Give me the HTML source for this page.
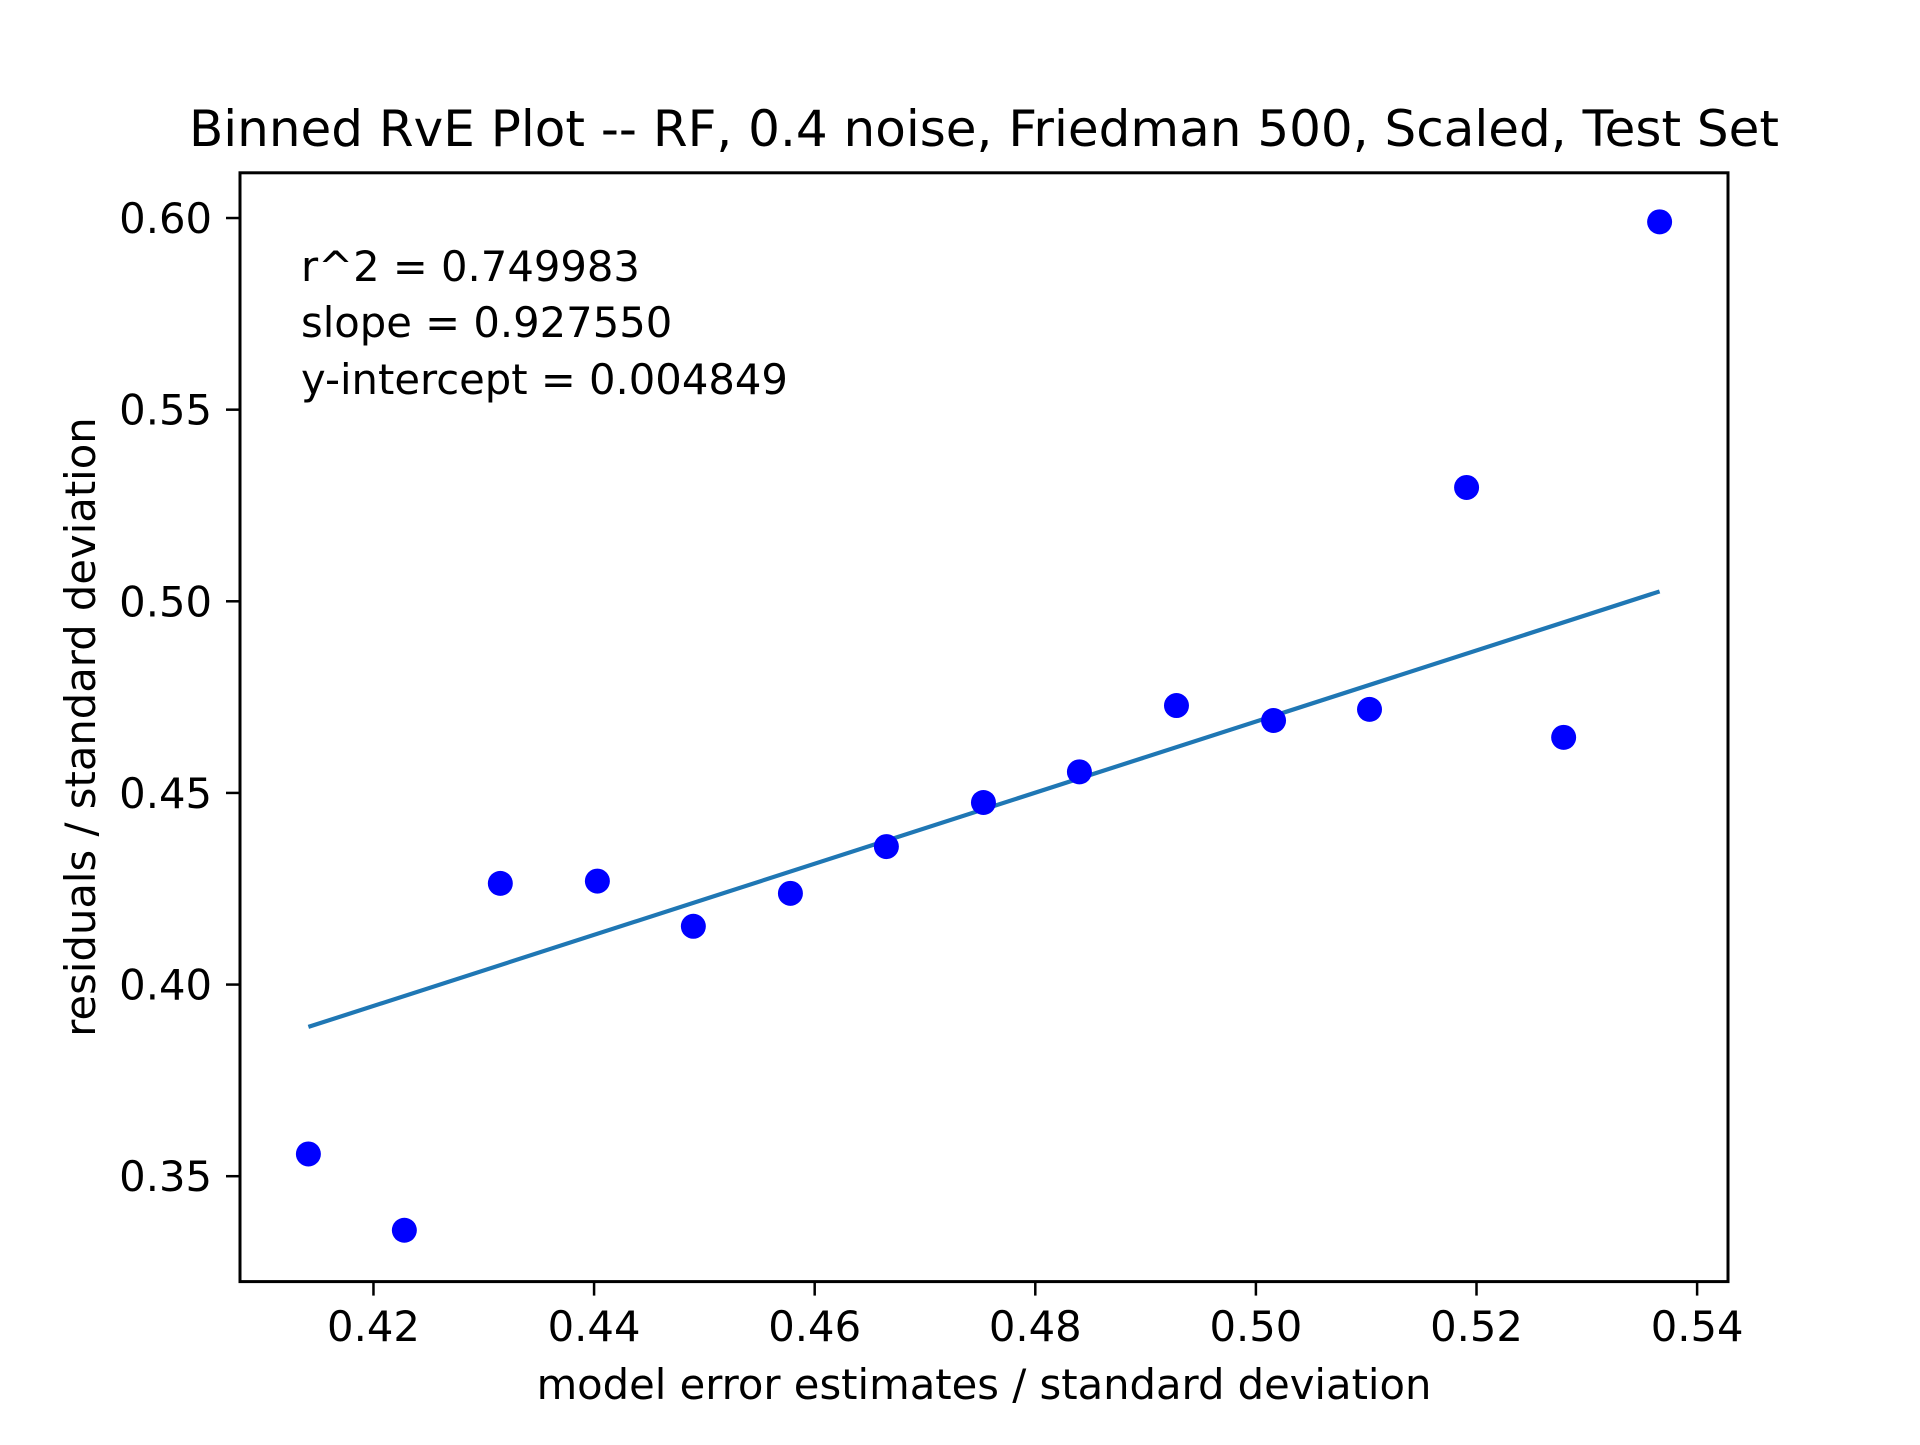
<!DOCTYPE html>
<html><head><meta charset="utf-8"><style>
html,body{margin:0;padding:0;background:#fff;}
svg text{font-family:"DejaVu Sans","Liberation Sans",sans-serif;fill:#000;}
</style></head><body>
<svg id="chart" width="1920" height="1440" xmlns="http://www.w3.org/2000/svg">
<rect width="1920" height="1440" fill="#fff"/>
<g id="marks"></g>
<text x="984" y="146" font-size="50" text-anchor="middle">Binned RvE Plot -- RF, 0.4 noise, Friedman 500, Scaled, Test Set</text>
<g font-size="41.7">
<text x="301" y="281">r^2 = 0.749983</text>
<text x="301" y="337">slope = 0.927550</text>
<text x="301" y="394">y-intercept = 0.004849</text>
</g>
<text x="984" y="1399" font-size="41.7" text-anchor="middle">model error estimates / standard deviation</text>
<text x="0" y="0" font-size="41.7" text-anchor="middle" transform="translate(95,727) rotate(-90)">residuals / standard deviation</text>
<rect x="240" y="172.8" width="1488" height="1108.8" fill="none" stroke="#000" stroke-width="3"/>
</svg>
<script>
const xVals=[0.4141,0.4228,0.4315,0.4403,0.4490,0.4578,0.4665,0.4753,0.4840,0.4928,0.5016,0.5103,0.5191,0.5279,0.5366];
const yVals=[0.3558,0.3359,0.4264,0.4270,0.4152,0.4238,0.4360,0.4475,0.4555,0.4728,0.4689,0.4718,0.5297,0.4645,0.5990];
const xTicks=[0.42,0.44,0.46,0.48,0.50,0.52,0.54];
const yTicks=[0.35,0.40,0.45,0.50,0.55,0.60];
const fitSlope=0.927550;
const fitIntercept=0.004849;
const X0=240,X1=1728,Y0=1281.6,Y1=172.8;
const xmin=0.4079,xmax=0.5428,ymin=0.3225,ymax=0.6118;
function sx(v){return X0+(v-xmin)/(xmax-xmin)*(X1-X0);}
function sy(v){return Y0-(v-ymin)/(ymax-ymin)*(Y0-Y1);}
const NS='http://www.w3.org/2000/svg';
const g=document.getElementById('marks');
function mk(t,a){const e=document.createElementNS(NS,t);for(const k in a)e.setAttribute(k,a[k]);g.appendChild(e);return e;}
xTicks.forEach(v=>{
  const l=mk('line',{x1:sx(v),x2:sx(v),y1:Y0,y2:Y0+14,stroke:'#000','stroke-width':2.5});
  
  
  const t=mk('text',{x:sx(v),y:1341,'font-size':41.7,'text-anchor':'middle'});
  t.textContent=v.toFixed(2);
  
  
});
yTicks.forEach(v=>{
  const l=mk('line',{x1:X0-14,x2:X0,y1:sy(v),y2:sy(v),stroke:'#000','stroke-width':2.5});
  
  
  const t=mk('text',{x:X0-28,y:sy(v)+15,'font-size':41.7,'text-anchor':'end'});
  t.textContent=v.toFixed(2);
  
  
});
const xa=Math.min(...xVals),xb=Math.max(...xVals);
const fl=mk('line',{x1:sx(xa),y1:sy(fitSlope*xa+fitIntercept),x2:sx(xb),y2:sy(fitSlope*xb+fitIntercept),stroke:'#1f77b4','stroke-width':4.2});


xVals.forEach((v,i)=>{
  const c=mk('circle',{cx:sx(v),cy:sy(yVals[i]),r:12.5,fill:'#0000ff'});
  
  
});
</script>
</body></html>
